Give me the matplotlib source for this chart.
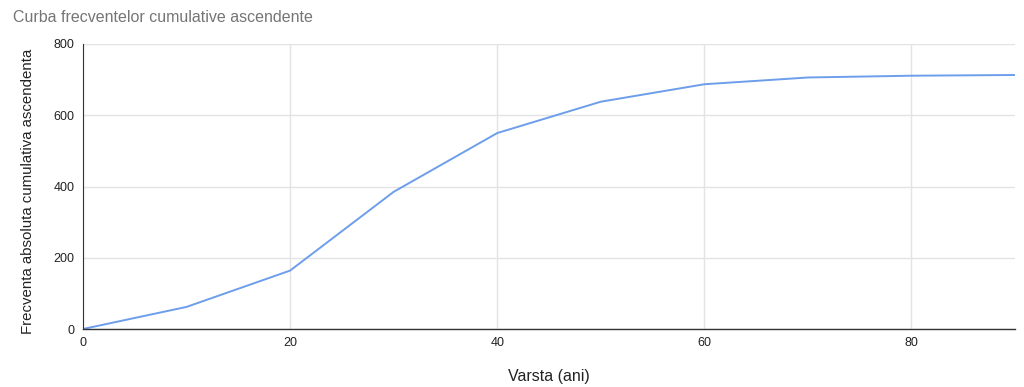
import matplotlib
matplotlib.use("Agg")
import matplotlib.pyplot as plt

varsta = [0, 10, 20, 30, 40, 50, 60, 70, 80, 90]
frecventa = [0, 62, 164, 385, 550, 638, 687, 706, 711, 713]
xticks = [0, 20, 40, 60, 80]
yticks = [0, 200, 400, 600, 800]

plt.rcParams['font.family'] = ['Liberation Sans', 'DejaVu Sans']

fig = plt.figure(figsize=(10.24, 3.87), dpi=100)
ax = fig.add_axes([83/1024, (387-329)/387, (1015-83)/1024, (329-44)/387])
ax.plot(varsta, frecventa, color='#6d9eeb', linewidth=1.4, solid_joinstyle='round')
ax.set_xlim(0, 90)
ax.set_ylim(0, 800)
ax.set_xticks(xticks)
ax.set_yticks(yticks)
ax.grid(True, color='#e3e3e3', linewidth=1)
ax.set_axisbelow(True)
for s in ['top', 'right']:
    ax.spines[s].set_visible(False)
ax.spines['left'].set_color('#333333')
ax.spines['bottom'].set_color('#333333')
ax.spines['left'].set_linewidth(0.8)
ax.spines['bottom'].set_linewidth(1.0)
ax.tick_params(length=0, labelsize=9, colors='#222222', pad=6)
fig.text(549/1024, 1 - 376/387, 'Varsta (ani)', fontsize=11.5, color='#222222',
         ha='center', va='center')
fig.text(28/1024, 1 - 191/387, 'Frecventa absoluta cumulativa ascendenta', fontsize=10.8,
         color='#222222', ha='center', va='center', rotation=90)
fig.text(13/1024, 1 - 17/387, 'Curba frecventelor cumulative ascendente', fontsize=11.5,
         color='#757575', va='center', ha='left')
fig.savefig('out.png', dpi=100, facecolor='white')
